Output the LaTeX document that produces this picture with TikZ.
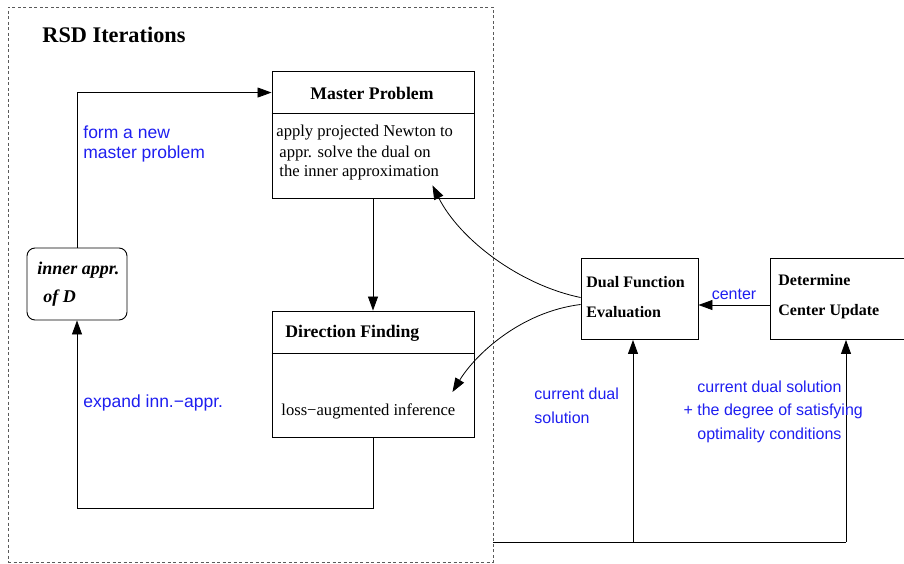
\documentclass[tikz,border=0pt]{standalone}
\usepackage{fontspec}
\setmainfont{Liberation Serif}
\setsansfont{Liberation Sans}
\usetikzlibrary{arrows.meta}
\definecolor{lblue}{RGB}{30,30,240}
\definecolor{dashgray}{RGB}{90,90,90}
\tikzset{
  arr/.style={-{Triangle[length=14pt,width=10pt]}},
  box/.style={draw, line width=0.9pt, inner sep=0pt},
  ttl/.style={font=\bfseries\fontsize{17.7}{21}\selectfont, inner sep=0pt},
  sttl/.style={font=\bfseries\fontsize{16}{30}\selectfont, inner sep=0pt, align=left},
  body/.style={font=\fontsize{16.6}{20}\selectfont, inner sep=0pt, align=left},
  blab/.style={font=\sffamily\fontsize{17.5}{20}\selectfont, text=lblue, inner sep=0pt, align=left},
  rlab/.style={font=\sffamily\fontsize{16}{23.5}\selectfont, text=lblue, inner sep=0pt, align=left},
}
\begin{document}
\begin{tikzpicture}[x=1pt,y=-1pt, line width=0.8pt]
\useasboundingbox (0,0) rectangle (904,564);
% outer dashed frame
\node[draw=dashgray, dash pattern=on 3pt off 2.5pt, line width=0.9pt, minimum width=485pt, minimum height=555pt, inner sep=0pt] (frame) at (250.5,284.5) {};
\node[font=\bfseries\fontsize{22.3}{26}\selectfont, inner sep=0pt, anchor=base west] (title) at (42,43) {RSD Iterations};

% Master Problem
\node[box, minimum width=202pt, minimum height=127pt] (mp) at (373,134.5) {};
\draw[line width=0.9pt] (mp.west |- 0,113) -- (mp.east |- 0,113);
\node[ttl, anchor=base] (mpt) at (372,100) {Master Problem};
\node[body, anchor=base west] (mpb) at (276,177) {apply projected Newton to\\\hspace{3pt}appr. solve the dual on\\\hspace{3pt}the inner approximation};

% Direction Finding
\node[box, minimum width=202pt, minimum height=126pt] (df) at (373,374) {};
\draw[line width=0.9pt] (df.west |- 0,353) -- (df.east |- 0,353);
\node[ttl, anchor=base west] (dft) at (285,337) {Direction Finding};
\node[body, anchor=base west] (dfb) at (281,415) {loss−augmented inference};

% inner approximation
\node[box, rounded corners=8pt, minimum width=100pt, minimum height=72pt] (inner) at (77,284) {};
\node[font=\bfseries\itshape\fontsize{18}{28}\selectfont, inner sep=0pt, anchor=base west, align=left] (innert) at (37,302) {inner appr.\\\hspace{6pt}of D};

% Dual function evaluation
\node[box, minimum width=117pt, minimum height=81pt] (dfe) at (639.5,299) {};
\node[sttl, anchor=base west] (dfet) at (586,317) {Dual Function\\Evaluation};

% Determine center update
\node[box, minimum width=150pt, minimum height=81pt] (dcu) at (845,299) {};
\node[sttl, anchor=base west] (dcut) at (778,315) {Determine\\Center Update};

% connectors inside
\draw[arr] (inner.north) |- ([yshift=-22pt]mp.north west);
\draw[arr] (mp.south) -- (df.north);
\draw[arr] (df.south) -- ++(0,71) -| (inner.south);

\node[blab, anchor=base west] (lab1) at (83,159) {form a new\\master problem};
\node[blab, anchor=base west] (lab2) at (83,407) {expand inn.−appr.};

% center arrow
\draw[arr] (dcu.west |- 0,305) -- node[midway, above=5pt, font=\sffamily\fontsize{16}{19}\selectfont, text=lblue, inner sep=0pt] (clab) {center} (dfe.east |- 0,305);

% curves
\draw[arr] ([yshift=1.5pt]dfe.west) .. controls (520,285) and (460,240) .. ([xshift=-42pt,yshift=13pt]mp.south east);
\draw[arr] ([yshift=-5.5pt]dfe.west) .. controls (520,312) and (475,355) .. ([xshift=-22pt,yshift=-18pt]df.east);

% bottom feedback
\coordinate (bstart) at (frame.east |- 0,542);
\coordinate (bend) at (846,542);
\coordinate (dfin) at ([xshift=-6.5pt]dfe.south);
\draw (bstart) -- (bend);
\draw[arr] (bend) -- (bend |- dcu.south);
\draw[arr] (dfin |- bstart) -- (dfin);

\node[rlab, anchor=base west] (lab3) at (534,423) {current dual\\solution};
\node[rlab, anchor=base west] (lab4) at (697,439) {current dual solution\\\llap{+ }the degree of satisfying\\optimality conditions};
\end{tikzpicture}
\end{document}
